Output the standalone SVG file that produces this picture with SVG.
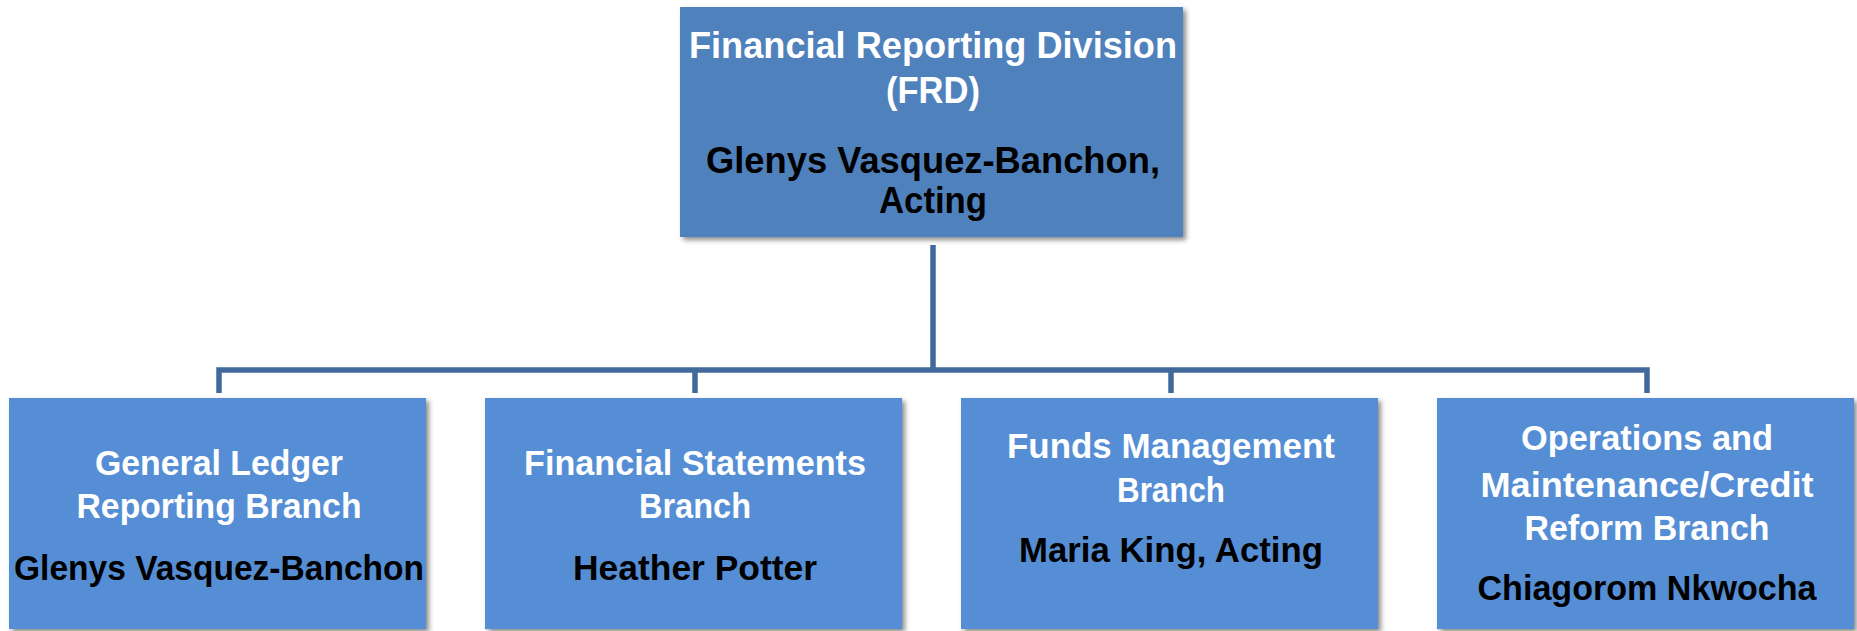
<svg xmlns="http://www.w3.org/2000/svg" width="1857" height="631" viewBox="0 0 1857 631">
<style>
.top{fill:#4F81BD}
.box{fill:#558ED5}
.t{font-family:"Liberation Sans",Arial,sans-serif;font-weight:bold;text-anchor:middle}
.w{fill:#FFFFFF}
.k{fill:#000000}
.tt{font-size:37px}
.bt{font-size:35px}
.ln{stroke:#41699B;stroke-width:5.5;fill:none}
</style>
<defs>
<filter id="sh" x="-5%" y="-5%" width="115%" height="115%">
<feDropShadow dx="3" dy="3" stdDeviation="2.5" flood-color="#000" flood-opacity="0.45"/>
</filter>
</defs>
<rect width="1857" height="631" fill="#FFFFFF"/>
<g id="connectors">
<path class="ln" d="M933 245 V370"/>
<path class="ln" d="M219 393 V370 H1647 V393"/>
<path class="ln" d="M695 370 V393"/>
<path class="ln" d="M1171 370 V393"/>
</g>
<g id="frd">
<rect class="top" x="680" y="7" width="503" height="230" filter="url(#sh)"/>
<text class="t w tt" x="933" y="58" textLength="488" lengthAdjust="spacingAndGlyphs">Financial Reporting Division</text>
<text class="t w tt" x="933" y="103" textLength="94" lengthAdjust="spacingAndGlyphs">(FRD)</text>
<text class="t k tt" x="933" y="173" textLength="454" lengthAdjust="spacingAndGlyphs">Glenys Vasquez-Banchon,</text>
<text class="t k tt" x="933" y="213" textLength="108" lengthAdjust="spacingAndGlyphs">Acting</text>
</g>
<g id="glrb">
<rect class="box" x="9" y="398" width="417" height="231" filter="url(#sh)"/>
<text class="t w bt" x="219" y="475" textLength="248" lengthAdjust="spacingAndGlyphs">General Ledger</text>
<text class="t w bt" x="219" y="518" textLength="285" lengthAdjust="spacingAndGlyphs">Reporting Branch</text>
<text class="t k bt" x="219" y="580" textLength="410" lengthAdjust="spacingAndGlyphs">Glenys Vasquez-Banchon</text>
</g>
<g id="fsb">
<rect class="box" x="485" y="398" width="417" height="231" filter="url(#sh)"/>
<text class="t w bt" x="695" y="475" textLength="342" lengthAdjust="spacingAndGlyphs">Financial Statements</text>
<text class="t w bt" x="695" y="518" textLength="112" lengthAdjust="spacingAndGlyphs">Branch</text>
<text class="t k bt" x="695" y="580" textLength="244" lengthAdjust="spacingAndGlyphs">Heather Potter</text>
</g>
<g id="fmb">
<rect class="box" x="961" y="398" width="417" height="231" filter="url(#sh)"/>
<text class="t w bt" x="1171" y="458" textLength="328" lengthAdjust="spacingAndGlyphs">Funds Management</text>
<text class="t w bt" x="1171" y="502" textLength="108" lengthAdjust="spacingAndGlyphs">Branch</text>
<text class="t k bt" x="1171" y="562" textLength="304" lengthAdjust="spacingAndGlyphs">Maria King, Acting</text>
</g>
<g id="omcrb">
<rect class="box" x="1437" y="398" width="417" height="231" filter="url(#sh)"/>
<text class="t w bt" x="1647" y="450" textLength="252" lengthAdjust="spacingAndGlyphs">Operations and</text>
<text class="t w bt" x="1647" y="497" textLength="333" lengthAdjust="spacingAndGlyphs">Maintenance/Credit</text>
<text class="t w bt" x="1647" y="540" textLength="245" lengthAdjust="spacingAndGlyphs">Reform Branch</text>
<text class="t k bt" x="1647" y="600" textLength="339" lengthAdjust="spacingAndGlyphs">Chiagorom Nkwocha</text>
</g>
</svg>
